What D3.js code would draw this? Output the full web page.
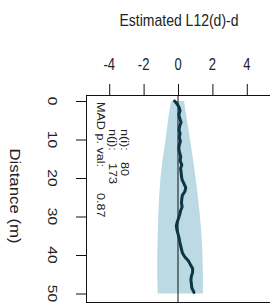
<!DOCTYPE html>
<meta charset="utf-8">
<script src="https://d3js.org/d3.v7.min.js"></script>
<style>
  body { margin: 0; background: #fff; }
  text { font-family: "Liberation Sans", Arial, sans-serif; fill: #222; }
</style>
<body>
<div id="vis"></div>
<script>
// tick values
var xTicks = [-4, -2, 0, 2, 4];
var yTicks = [0, 10, 20, 30, 40, 50];

// envelope (distance, lower, upper)
var bandDist  = [0, 5, 10, 15, 20, 25, 30, 35, 40, 45, 50];
var bandLower = [-0.41, -0.58, -0.72, -0.89, -1.02, -1.1, -1.15, -1.18, -1.21, -1.21, -1.18];
var bandUpper = [0.35, 0.52, 0.70, 0.87, 1.02, 1.16, 1.28, 1.37, 1.42, 1.45, 1.45];

// estimated L12(d)-d along distance
var lineDist = [0, 0.8, 1.5, 2.5, 3.5, 4.5, 5.5, 6.5, 7.5, 8.5, 9.5, 10.5, 11.5, 12.5, 13.5, 14.5,
  15.5, 16.6, 17.5, 18.5, 19.5, 20.5, 21.5, 22.5, 23.5, 24.5, 25.5, 26.5, 27.5, 28.5, 29.5, 30.5,
  31.5, 32.5, 33.5, 34.5, 35.5, 36.5, 37.5, 38.5, 39.5, 40.5, 41.5, 42.5, 43.5, 44.5, 45.5, 46.5,
  47.5, 48.5, 49.7];
var lineVal = [-0.2, -0.05, 0.05, 0.12, 0.05, 0.1, 0.18, 0.1, 0.06, 0.12, 0.08, 0.14, 0.07, 0.05, 0.1, 0.16,
  0.12, 0.22, 0.15, 0.18, 0.2, 0.24, 0.35, 0.45, 0.4, 0.25, 0.22, 0.2, 0.24, 0.15, 0.1, 0.03,
  -0.05, -0.1, -0.06, 0.0, 0.06, 0.1, 0.15, 0.2, 0.26, 0.4, 0.6, 0.72, 0.85, 0.85, 0.78, 0.75,
  0.78, 0.8, 0.93];

// annotation lines
var annLabels = ["n(i):", "n(j):", "MAD p. val:"];
var annValues = ["80", "173", "0.87"];

var width = 270, height = 307;
var box = {left: 86, right: 270, top: 95, bottom: 302};
var stretch = 1.2; // glyphs in the picture are a bit taller than wide

var svg = d3.select("#vis")
  .append("svg")
    .attr("width", width)
    .attr("height", height);

var x = d3.scaleLinear()
  .domain([-5.35, 5.35])
  .range([box.left, box.right]);
var y = d3.scaleLinear()
  .domain([0, 50])
  .range([101, 293.5]);

// envelope
var band = bandDist.map(function(d, i){ return {d: d, lo: bandLower[i], hi: bandUpper[i]}; });
svg.append("path")
  .datum(band)
  .attr("fill", "#bcdae3")
  .attr("d", d3.area()
    .y(function(d){ return y(d.d); })
    .x0(function(d){ return x(d.lo); })
    .x1(function(d){ return x(d.hi); }));

// zero line
svg.append("line")
  .attr("x1", x(0)).attr("x2", x(0))
  .attr("y1", box.top).attr("y2", box.bottom)
  .attr("stroke", "#111")
  .attr("stroke-width", 1);

// observed curve
var pts = lineDist.map(function(d, i){ return {d: d, v: lineVal[i]}; });
svg.append("path")
  .datum(pts)
  .attr("fill", "none")
  .attr("stroke", "#0c3645")
  .attr("stroke-width", 3)
  .attr("stroke-linejoin", "round")
  .attr("stroke-linecap", "round")
  .attr("d", d3.line()
    .x(function(d){ return x(d.v); })
    .y(function(d){ return y(d.d); }));

// box
svg.append("rect")
  .attr("x", box.left + 0.5)
  .attr("y", box.top + 0.5)
  .attr("width", box.right - box.left)
  .attr("height", box.bottom - box.top)
  .attr("fill", "none")
  .attr("stroke", "#111");

// top axis ticks
var xAxis = svg.append("g")
  .attr("transform", "translate(0," + box.top + ")")
  .call(d3.axisTop(x).tickValues(xTicks).tickSize(11).tickFormat(""));
xAxis.select(".domain").remove();
xAxis.selectAll("line").attr("stroke", "#111");
svg.selectAll(".xlab")
  .data(xTicks)
  .enter()
  .append("text")
    .attr("transform", function(d){ return "translate(" + x(d) + ",70) scale(1," + stretch + ")"; })
    .attr("text-anchor", "middle")
    .style("font-size", "13px")
    .text(function(d){ return d; });

// left axis, labels rotated
var yAxis = svg.append("g")
  .attr("transform", "translate(" + box.left + ",0)")
  .call(d3.axisLeft(y).tickValues(yTicks).tickSize(10).tickFormat(""));
yAxis.select(".domain").remove();
yAxis.selectAll("line").attr("stroke", "#111");
svg.selectAll(".ylab")
  .data(yTicks)
  .enter()
  .append("text")
    .attr("transform", function(d){ return "translate(53," + y(d) + ") scale(1," + stretch + ") rotate(90)"; })
    .attr("text-anchor", "middle")
    .attr("dy", "0.35em")
    .style("font-size", "13px")
    .text(function(d){ return d; });

// titles
svg.append("text")
  .attr("transform", "translate(179,26) scale(1," + stretch + ")")
  .attr("text-anchor", "middle")
  .style("font-size", "14px")
  .text("Estimated L12(d)-d");

svg.append("text")
  .attr("transform", "translate(15,196) scale(1," + stretch + ") rotate(90)")
  .attr("text-anchor", "middle")
  .attr("dy", "0.35em")
  .style("font-size", "14px")
  .text("Distance (m)");

// annotation (rotated)
var annX = [125, 113, 101];
var annLabelY = [129, 129, 102];
var annValueY = [162, 163, 193];
annLabels.forEach(function(t, i){
  svg.append("text")
    .attr("transform", "translate(" + annX[i] + "," + annLabelY[i] + ") scale(1," + stretch + ") rotate(90)")
    .attr("dy", "0.35em")
    .style("font-size", "10.5px")
    .text(t);
  svg.append("text")
    .attr("transform", "translate(" + annX[i] + "," + annValueY[i] + ") scale(1," + stretch + ") rotate(90)")
    .attr("dy", "0.35em")
    .style("font-size", "10.5px")
    .text(annValues[i]);
});
</script>
</body>
